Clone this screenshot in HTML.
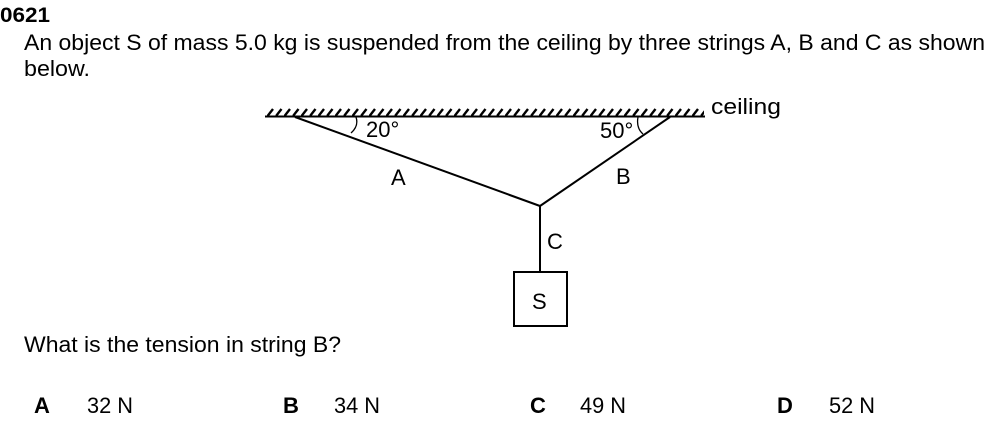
<!DOCTYPE html>
<html><head><meta charset="utf-8"><style>
html,body{margin:0;padding:0;background:#fff;}
svg{display:block;}
text{font-family:"Liberation Sans",Arial,sans-serif;fill:#000;}
</style></head><body>
<svg width="1001" height="435" viewBox="0 0 1001 435" xmlns="http://www.w3.org/2000/svg">
<defs>
<pattern id="h" x="267" y="108" width="8.5" height="8" patternUnits="userSpaceOnUse">
<line x1="0.5" y1="8" x2="6" y2="1" stroke="#000" stroke-width="2.4"/>
</pattern>
</defs>
<text x="0" y="22" font-size="21" font-weight="bold" textLength="50" lengthAdjust="spacingAndGlyphs">0621</text>
<text x="24" y="50" font-size="22" textLength="961" lengthAdjust="spacingAndGlyphs">An object S of mass 5.0 kg is suspended from the ceiling by three strings A, B and C as shown</text>
<text x="24" y="76" font-size="22" textLength="66" lengthAdjust="spacingAndGlyphs">below.</text>

<rect x="267" y="108" width="437" height="8" fill="url(#h)"/>
<line x1="265" y1="116.5" x2="705" y2="116.5" stroke="#000" stroke-width="2"/>
<text x="711" y="114" font-size="22" textLength="70" lengthAdjust="spacingAndGlyphs">ceiling</text>

<line x1="295" y1="117" x2="540" y2="206" stroke="#000" stroke-width="2"/>
<line x1="670" y1="117" x2="540" y2="206" stroke="#000" stroke-width="2"/>
<line x1="540" y1="206" x2="540" y2="272" stroke="#000" stroke-width="2"/>
<rect x="514" y="272" width="53" height="54" fill="none" stroke="#000" stroke-width="2"/>

<path d="M356,117 Q359,126 351,133" fill="none" stroke="#000" stroke-width="1.3"/>
<path d="M638,117 Q636,128 643,134" fill="none" stroke="#000" stroke-width="1.3"/>
<text x="366" y="137" font-size="22">20°</text>
<text x="600" y="138" font-size="22">50°</text>
<text x="391" y="185" font-size="22">A</text>
<text x="616" y="184" font-size="22">B</text>
<text x="547" y="249" font-size="22">C</text>
<text x="532" y="309" font-size="22">S</text>

<text x="24" y="352" font-size="22" textLength="317" lengthAdjust="spacingAndGlyphs">What is the tension in string B?</text>
<text x="34" y="413" font-size="22" font-weight="bold">A</text>
<text x="87" y="413" font-size="22" textLength="46" lengthAdjust="spacingAndGlyphs">32 N</text>
<text x="283" y="413" font-size="22" font-weight="bold">B</text>
<text x="334" y="413" font-size="22" textLength="46" lengthAdjust="spacingAndGlyphs">34 N</text>
<text x="530" y="413" font-size="22" font-weight="bold">C</text>
<text x="580" y="413" font-size="22" textLength="46" lengthAdjust="spacingAndGlyphs">49 N</text>
<text x="777" y="413" font-size="22" font-weight="bold">D</text>
<text x="829" y="413" font-size="22" textLength="46" lengthAdjust="spacingAndGlyphs">52 N</text>
</svg>
</body></html>
